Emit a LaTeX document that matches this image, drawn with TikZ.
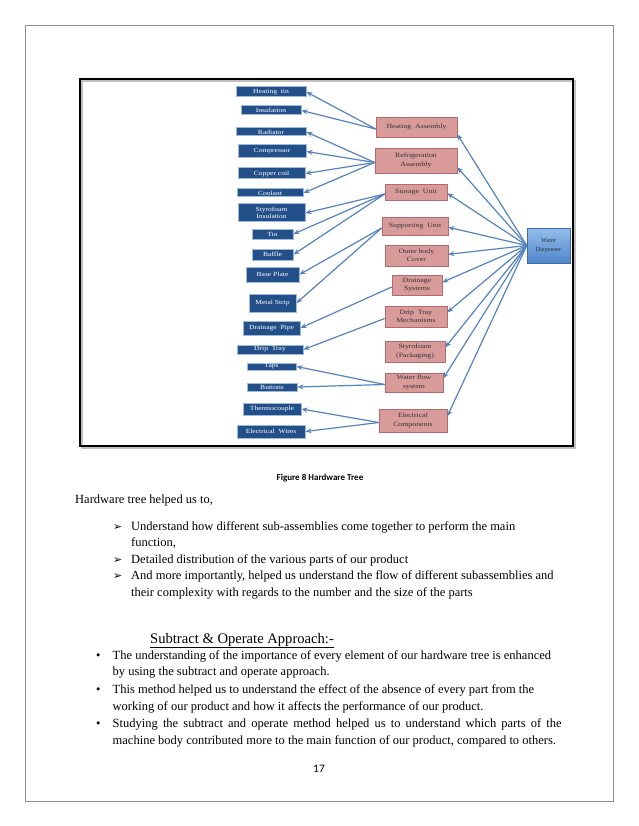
\documentclass[tikz,border=0pt]{standalone}
\usepackage{fontspec}
\setmainfont{Liberation Serif}
\newfontfamily\calibri{Carlito}
\newfontfamily\dejavu{DejaVu Sans}
\usetikzlibrary{arrows.meta,shadows}
\definecolor{bluefill}{HTML}{24508A}
\definecolor{blueglow}{HTML}{9DB9DD}
\definecolor{pinkfill}{HTML}{D99A9A}
\definecolor{pinkdraw}{HTML}{B46A6A}
\definecolor{arrowc}{HTML}{5583BE}
\definecolor{watertop}{HTML}{94BDEA}
\definecolor{waterbot}{HTML}{4F86CC}
\definecolor{pageborder}{HTML}{8C8C8C}
\newcommand\sx[1]{\scalebox{1.2}[1]{#1}}
\tikzset{
  bbox/.style={draw=blueglow, line width=1pt, fill=bluefill, text=white, inner sep=0pt,
    font=\fontsize{6.3}{7.5}\selectfont, align=center},
  pbox/.style={draw=pinkdraw, line width=0.6pt, fill=pinkfill, text=black!80, inner sep=0pt,
    font=\fontsize{6.5}{8.5}\selectfont, align=center,
    drop shadow={shadow xshift=1pt, shadow yshift=-1pt, fill=black!30}},
  wbox/.style={draw=waterbot!80!black, line width=0.5pt, top color=watertop, bottom color=waterbot,
    text=black!80, inner sep=0pt, font=\fontsize{6.3}{8.5}\selectfont, align=center},
  conn/.style={draw=arrowc, line width=1.2pt, -{Stealth[length=6pt,width=5pt]}},
  txt/.style={anchor=base west, inner sep=0pt, font=\fontsize{12.5}{15}\selectfont},
  mark1/.style={anchor=base west, inner sep=0pt, font=\dejavu\fontsize{11}{13}\selectfont},
}
\begin{document}
\begin{tikzpicture}[x=1pt,y=-1pt]
\fill[white] (0,0) rectangle (638,826);
\useasboundingbox (0,0) rectangle (638,826);
% page border
\draw[pageborder, line width=0.8pt] (25,25) rectangle (613,801);
% figure frame
\draw[black!25, line width=2.5pt] (82,81) rectangle (575,448);
\draw[black, line width=2.5pt] (80,79) rectangle (573,446);

% blue part boxes
\node[bbox, minimum width=70pt, minimum height=10pt] (ht)   at (271,92)    {\sx{Heating~~tin}};
\node[bbox, minimum width=60pt, minimum height=9pt]  (ins)  at (271,110.5) {\sx{Insulation}};
\node[bbox, minimum width=70pt, minimum height=8pt]  (rad)  at (271,132)   {\sx{Radiator}};
\node[bbox, minimum width=68pt, minimum height=13pt] (comp) at (272,151.5) {\sx{Compressor}};
\node[bbox, minimum width=67pt, minimum height=11pt] (cc)   at (271.5,173.5) {\sx{Copper coil}};
\node[bbox, minimum width=66pt, minimum height=8pt]  (cool) at (270,193)   {\sx{Coolant}};
\node[bbox, minimum width=67pt, minimum height=18pt] (sty)  at (271.5,213) {\sx{Styrofoam}\\\sx{Insulation}};
\node[bbox, minimum width=41pt, minimum height=10pt] (tin)  at (272.5,234) {\sx{Tin}};
\node[bbox, minimum width=41pt, minimum height=11pt] (baf)  at (272.5,254.5) {\sx{Baffle}};
\node[bbox, minimum width=53pt, minimum height=15pt] (bp)   at (272.5,274.5) {\sx{Base Plate}};
\node[bbox, minimum width=47pt, minimum height=18pt] (ms)   at (272.5,303) {\sx{Metal Strip}};
\node[bbox, minimum width=57pt, minimum height=14pt] (dp)   at (271.5,328) {\sx{Drainage~~Pipe}};
\node[bbox, minimum width=66pt, minimum height=9pt]  (dt)   at (270,349.5) {\sx{Drip~~Tray}};
\node[bbox, minimum width=49pt, minimum height=7pt]  (taps) at (271.5,366.5) {\sx{Taps}};
\node[bbox, minimum width=50pt, minimum height=8pt]  (but)  at (272,387)   {\sx{Buttons}};
\node[bbox, minimum width=58pt, minimum height=12pt] (tc)   at (272,409)   {\sx{Thermocouple}};
\node[bbox, minimum width=68pt, minimum height=13pt] (ew)   at (271,431.5) {\sx{Electrical~~Wires}};

% pink sub-assembly boxes
\node[pbox, minimum width=81pt, minimum height=20pt] (ha)  at (416.5,127)   {\sx{Heating~~Assembly}};
\node[pbox, minimum width=82pt, minimum height=25pt] (ra)  at (416,160.5)   {\sx{Refrigeration}\\\sx{Assembly}};
\node[pbox, minimum width=62pt, minimum height=16pt] (su)  at (416,192)     {\sx{Storage~~Unit}};
\node[pbox, minimum width=66pt, minimum height=18pt] (sup) at (415,226)     {\sx{Supporting~~Unit}};
\node[pbox, minimum width=63pt, minimum height=21pt] (obc) at (416.5,255.5) {\sx{Outer body}\\\sx{Cover}};
\node[pbox, minimum width=50pt, minimum height=20pt] (ds)  at (417,285)     {\sx{Drainage}\\\sx{Systems}};
\node[pbox, minimum width=62pt, minimum height=21pt] (dtm) at (416,316.5)   {\sx{Drip~~Tray}\\\sx{Mechanisms}};
\node[pbox, minimum width=60pt, minimum height=21pt] (spk) at (415,351.5)   {\sx{Styrofoam}\\\sx{(Packaging)}};
\node[pbox, minimum width=58pt, minimum height=19pt] (wfs) at (414,382.5)   {\sx{Water flow}\\\sx{system}};
\node[pbox, minimum width=68pt, minimum height=23pt] (ec)  at (413,420.5)   {\sx{Electrical}\\\sx{Components}};

% root
\node[wbox, minimum width=43pt, minimum height=35pt] (wd) at (548.5,245.5) {Water\\Dispenser};

% connectors: sub-assemblies to parts
\foreach \s/\t in {ha/ht, ha/ins, ra/rad, ra/comp, ra/cc, ra/cool, su/sty, su/tin, su/baf,
                   sup/bp, sup/ms, ds/dp, dtm/dt, wfs/taps, wfs/but, ec/tc, ec/ew}
  \draw[conn] ([yshift=-2pt]\s.west) -- (\t.east);
% connectors: root to sub-assemblies
\foreach \t/\d in {ha/3, ra/6, su/7, sup/8, obc/12, ds/13, dtm/15, spk/15, wfs/14, ec/16}
  \draw[conn] (wd.west) -- ([yshift=\d pt]\t.south east);

% caption and body text
\node[anchor=base, inner sep=0pt, font=\calibri\bfseries\fontsize{9}{11}\selectfont] (cap) at (320,480) {Figure 8 Hardware Tree};
\node[txt] (intro) at (75,503) {Hardware tree helped us to,};

\node[mark1] (a1) at (113,530) {➢};
\node[txt] (l1) at (131,530) {Understand how different sub-assemblies come together to perform the main};
\node[txt] (l2) at (131,546.5) {function,};
\node[mark1] (a2) at (113,563) {➢};
\node[txt] (l3) at (131,563) {Detailed distribution of the various parts of our product};
\node[mark1] (a3) at (113,579.5) {➢};
\node[txt] (l4) at (131,579.5) {And more importantly, helped us understand the flow of different subassemblies and};
\node[txt] (l5) at (131,596) {their complexity with regards to the number and the size of the parts};

\node[anchor=base west, inner sep=0pt, font=\fontsize{14.6}{17}\selectfont] (hd) at (150,643) {\underline{Subtract \& Operate Approach:-}};

\node[txt] (b1) at (96,659) {\textbullet};
\node[txt] (m1) at (112.5,659) {The understanding of the importance of every element of our hardware tree is enhanced};
\node[txt] (m2) at (112.5,675.5) {by using the subtract and operate approach.};
\node[txt] (b2) at (96,693) {\textbullet};
\node[txt] (m3) at (112.5,693) {This method helped us to understand the effect of the absence of every part from the};
\node[txt] (m4) at (112.5,710) {working of our product and how it affects the performance of our product.};
\node[txt] (b3) at (96,727) {\textbullet};
\node[txt] (m5) at (112.5,727) {\makebox[449pt][s]{Studying the subtract and operate method helped us to understand which parts of the}};
\node[txt] (m6) at (112.5,744) {machine body contributed more to the main function of our product, compared to others.};

\node[anchor=base, inner sep=0pt, font=\calibri\fontsize{11.4}{13}\selectfont] (pg) at (319,772) {17};
\end{tikzpicture}
\end{document}
